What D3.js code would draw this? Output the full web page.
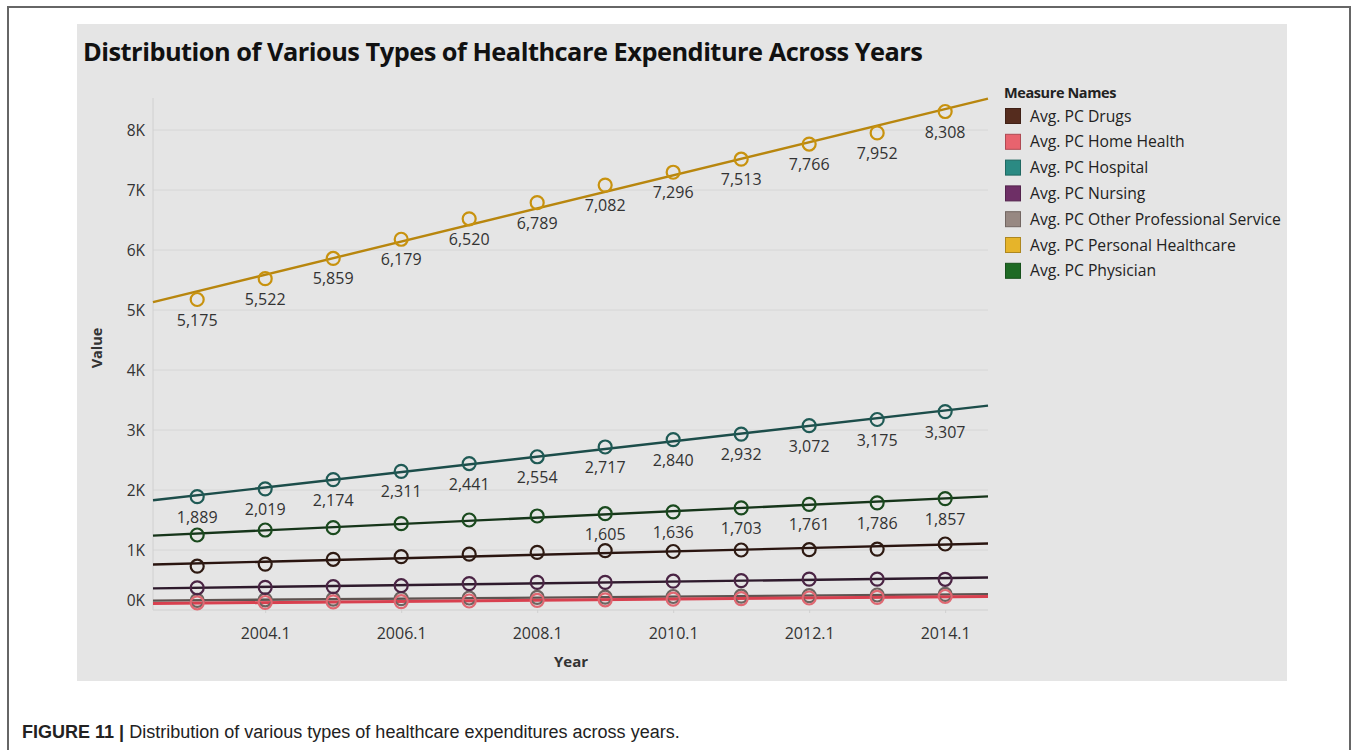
<!DOCTYPE html>
<html><head><meta charset="utf-8">
<script src="https://cdn.jsdelivr.net/npm/d3@7/dist/d3.min.js"></script>
<style>
body{margin:0;background:#fff;}
svg{display:block;}
</style></head>
<body>
<svg id="c" width="1357" height="750"></svg>
<script>
// ---- data ----
const years = [2003.1,2004.1,2005.1,2006.1,2007.1,2008.1,2009.1,2010.1,2011.1,2012.1,2013.1,2014.1];
const xTickValues = [2004.1,2006.1,2008.1,2010.1,2012.1,2014.1];
const yTickValues = [0,1000,2000,3000,4000,5000,6000,7000,8000];
const seriesNames = ["Avg. PC Drugs","Avg. PC Home Health","Avg. PC Hospital","Avg. PC Nursing","Avg. PC Other Professional Service","Avg. PC Personal Healthcare","Avg. PC Physician"];
const drugs     = [730,765,845,890,930,960,990,975,1000,1005,1015,1100];
const homeHealth= [120,125,135,140,150,160,170,180,190,200,210,225];
const hospital  = [1889,2019,2174,2311,2441,2554,2717,2840,2932,3072,3175,3307];
const nursing   = [370,378,390,405,440,460,460,480,490,515,515,512];
const otherProf = [160,170,180,190,200,210,215,225,230,240,250,260];
const personal  = [5175,5522,5859,6179,6520,6789,7082,7296,7513,7766,7952,8308];
const physician = [1250,1333,1372,1439,1500,1567,1605,1636,1703,1761,1786,1857];
const seriesValues = [drugs,homeHealth,hospital,nursing,otherProf,personal,physician];
// which series show value labels, and from which index
const labelFrom = {"Avg. PC Personal Healthcare":0,"Avg. PC Hospital":0,"Avg. PC Physician":6};

// ---- styles ----
const legendColor = ["#552c1e","#e8636e","#2b8a83","#6e2f66","#978882","#e6b42a","#1e6a24"];
const lineColor   = ["#2a1510","#d8404f","#1c4d4a","#2e1a2c","#5e5350","#b8860e","#16351a"];
const dotColor    = ["#2e1a12","#e06872","#1f5a55","#4a2444","#6e6460","#c8920e","#1a4a1e"];
const drawOrder = [4,1,3,0,6,2,5];

const svg = d3.select("#c");
const font = "'Open Sans','Noto Sans',sans-serif";

// outer frame
svg.append("rect").attr("x",8).attr("y",7).attr("width",1342).attr("height",760)
  .attr("fill","#fff").attr("stroke","#666").attr("stroke-width",2);
// panel
svg.append("rect").attr("x",77).attr("y",24).attr("width",1210).attr("height",657).attr("fill","#e5e5e5");

function fit(sel, w){
  const n = sel.node(); let fs = parseFloat(sel.attr("font-size"));
  for(let i=0;i<3;i++){ const cw = n.getComputedTextLength(); fs = fs*w/cw; sel.attr("font-size",fs); }
}

// title
const title = svg.append("text").attr("x",83).attr("y",61).attr("font-family",font).attr("font-weight",700)
  .attr("font-size",22).attr("fill","#111").attr("letter-spacing",-0.5)
  .text("Distribution of Various Types of Healthcare Expenditure Across Years");
fit(title, 839);

const x = d3.scaleLinear().domain([2002.45,2014.73]).range([153,988]);
const y = d3.scaleLinear().domain([0,8000]).range([610,130]);

// grid
const g = svg.append("g");
g.selectAll("line.h").data(yTickValues).join("line")
  .attr("x1",153).attr("x2",988).attr("y1",d=>y(d)).attr("y2",d=>y(d))
  .attr("stroke",d=>d===0?"#cfcfcf":"#d6d6d6").attr("stroke-width",1);
g.append("line").attr("x1",153).attr("x2",153).attr("y1",98).attr("y2",610).attr("stroke","#d0d0d0");

// y axis
const ya = svg.append("g").attr("transform","translate(153,0)")
  .call(d3.axisLeft(y).tickValues(yTickValues).tickSize(0).tickPadding(8).tickFormat(d=>(d/1000)+"K"));
ya.select(".domain").remove();
ya.selectAll("text").attr("font-family",font).attr("font-size",15.5).attr("fill","#333")
  .attr("dy",(d)=>d===0?"-0.3em":"0.35em");

// x axis
const xa = svg.append("g").attr("transform","translate(0,610)")
  .call(d3.axisBottom(x).tickValues(xTickValues).tickSize(3).tickPadding(15).tickFormat(d3.format(".1f")));
xa.select(".domain").remove();
xa.selectAll("line").attr("stroke","#d0d0d0");
xa.selectAll("text").attr("font-family",font).attr("font-size",16).attr("fill","#333");

svg.append("text").attr("x",571).attr("y",667).attr("text-anchor","middle").attr("font-family",font)
  .attr("font-weight",700).attr("font-size",15).attr("fill","#333").text("Year");
svg.append("text").attr("transform","translate(102,348) rotate(-90)").attr("text-anchor","middle").attr("font-family",font)
  .attr("font-weight",700).attr("font-size",14.5).attr("fill","#333").text("Value");

// trend lines (least squares) + points
function regress(vals){
  const mx=d3.mean(years), my=d3.mean(vals);
  let sxy=0,sxx=0; years.forEach((t,i)=>{sxy+=(t-mx)*(vals[i]-my); sxx+=(t-mx)*(t-mx);});
  const b=sxy/sxx, a=my-b*mx; return t=>a+b*t;
}
const dom = x.domain();
drawOrder.forEach(k=>{
  const f = regress(seriesValues[k]);
  svg.append("line").attr("x1",x(dom[0])).attr("y1",y(f(dom[0]))).attr("x2",x(dom[1])).attr("y2",y(f(dom[1])))
    .attr("stroke",lineColor[k]).attr("stroke-width",k===1?3:2.4);
});
drawOrder.forEach(k=>{
  svg.append("g").selectAll("circle").data(seriesValues[k]).join("circle")
    .attr("cx",(d,i)=>x(years[i])).attr("cy",d=>y(d)).attr("r",6.5)
    .attr("fill","none").attr("stroke",dotColor[k]).attr("stroke-width",2.2);
});
// labels
seriesNames.forEach((nm,k)=>{
  if(!(nm in labelFrom)) return;
  const st = labelFrom[nm];
  svg.append("g").selectAll("text").data(seriesValues[k].map((v,i)=>({v,i})).filter(d=>d.i>=st)).join("text")
    .attr("x",d=>x(years[d.i])).attr("y",d=>y(d.v)+26).attr("text-anchor","middle")
    .attr("font-family",font).attr("font-size",16).attr("fill","#333").text(d=>d3.format(",")(d.v));
});

// legend
svg.append("text").attr("x",1004).attr("y",98).attr("font-family",font).attr("font-weight",700)
  .attr("font-size",14.5).attr("fill","#222").attr("letter-spacing",-0.4).text("Measure Names");
const lg = svg.append("g").selectAll("g").data(seriesNames).join("g")
  .attr("transform",(d,i)=>`translate(1005,${116+i*25.8})`);
lg.append("rect").attr("x",0.5).attr("y",-7.5).attr("width",15).attr("height",15)
  .attr("fill",(d,i)=>legendColor[i]).attr("stroke",(d,i)=>d3.color(legendColor[i]).darker(0.8)).attr("stroke-width",1);
const lt = lg.append("text").attr("x",25).attr("y",5.5).attr("font-family",font).attr("font-size",14.5).attr("fill","#222").text(d=>d);
fit(d3.select(lt.nodes()[4]), 251);
const fsL = d3.select(lt.nodes()[4]).attr("font-size"); lt.attr("font-size",fsL);

// caption (condensed look via horizontal scale)
const capG = svg.append("g").attr("transform","translate(22,738)");
const cap = capG.append("text").attr("x",0).attr("y",0).attr("font-family","'Liberation Sans',Arial,sans-serif")
  .attr("font-size",18).attr("fill","#222");
cap.append("tspan").attr("font-weight",700).text("FIGURE 11 | ");
cap.append("tspan").text("Distribution of various types of healthcare expenditures across years.");
const cw = cap.node().getComputedTextLength();
capG.attr("transform",`translate(22,738) scale(${658/cw},1)`);
</script>
</body></html>
